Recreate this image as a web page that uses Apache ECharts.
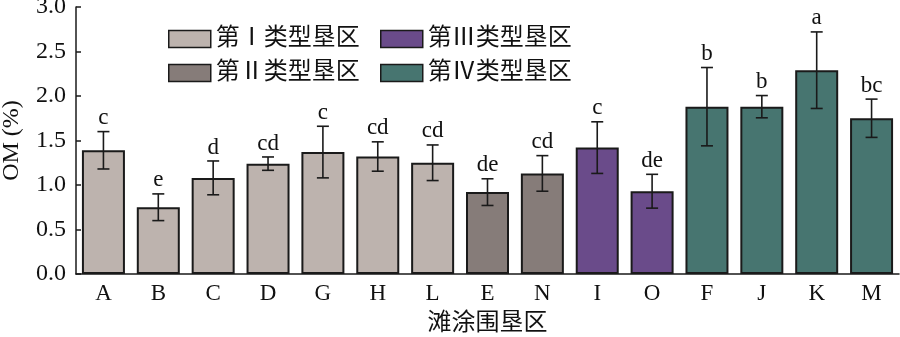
<!DOCTYPE html>
<html>
<head>
<meta charset="utf-8">
<script src="https://cdn.jsdelivr.net/npm/echarts@6/dist/echarts.min.js"></script>
<style>
  html, body { margin: 0; padding: 0; background: #fff; }
  #chart { width: 900px; height: 337px; }
</style>
</head>
<body>
<div id="chart"></div>
<script>
// Reclamation zones along the x axis
const categories = ['A', 'B', 'C', 'D', 'G', 'H', 'L', 'E', 'N', 'I', 'O', 'F', 'J', 'K', 'M'];
// Mean organic matter content (%)
const omMean = [1.39, 0.75, 1.08, 1.24, 1.37, 1.32, 1.25, 0.92, 1.13, 1.42, 0.93, 1.88, 1.88, 2.29, 1.75];
// Standard error for each zone
const omError = [0.21, 0.15, 0.19, 0.075, 0.29, 0.165, 0.2, 0.15, 0.2, 0.29, 0.19, 0.44, 0.125, 0.43, 0.215];
// Significance letters
const sigLetters = ['c', 'e', 'd', 'cd', 'c', 'cd', 'cd', 'de', 'cd', 'c', 'de', 'b', 'b', 'a', 'bc'];
// Zone type index for each category (0..3)
const zoneType = [0, 0, 0, 0, 0, 0, 0, 1, 1, 2, 2, 3, 3, 3, 3];
// Zone type names
const typeNames = ['第Ⅰ类型垦区', '第Ⅱ类型垦区', '第Ⅲ类型垦区', '第Ⅳ类型垦区'];
const typeColors = ['#bdb3ae', '#867c79', '#6a4b8a', '#477570'];

const serif = '"Liberation Serif", "Times New Roman", "Noto Sans CJK SC", serif';

const barSeries = typeNames.map((name, t) => ({
  name: name,
  type: 'bar',
  barWidth: 43,
  barGap: '-100%',
  itemStyle: { color: typeColors[t], borderColor: '#1a1a1a', borderWidth: 2 },
  data: omMean.map((v, i) => (zoneType[i] === t ? v : null)),
  z: 2
}));

// Error bars with significance letters above the upper cap
const errorSeries = {
  type: 'custom',
  name: 'err',
  z: 5,
  data: omMean.map((v, i) => [i, v, omError[i]]),
  renderItem: function (params, api) {
    const x = api.value(0);
    const v = api.value(1);
    const e = api.value(2);
    const letter = sigLetters[params.dataIndex];
    const top = api.coord([x, v + e]);
    const bot = api.coord([x, v - e]);
    const cap = 6;
    const style = { stroke: '#1a1a1a', lineWidth: 1.6 };
    return {
      type: 'group',
      children: [
        { type: 'line', shape: { x1: top[0], y1: top[1], x2: bot[0], y2: bot[1] }, style: style },
        { type: 'line', shape: { x1: top[0] - cap, y1: top[1], x2: top[0] + cap, y2: top[1] }, style: style },
        { type: 'line', shape: { x1: bot[0] - cap, y1: bot[1], x2: bot[0] + cap, y2: bot[1] }, style: style },
        {
          type: 'text',
          style: {
            x: top[0], y: top[1] - 2,
            text: letter,
            align: 'center', verticalAlign: 'bottom',
            font: '23px ' + serif,
            fill: '#111'
          }
        }
      ]
    };
  }
};

const legendBase = {
  orient: 'vertical',
  itemWidth: 42,
  itemHeight: 17,
  itemGap: 10,
  icon: 'rect',
  textStyle: { fontFamily: serif, fontSize: 24, color: '#111' },
  itemStyle: { borderColor: '#1a1a1a', borderWidth: 1.5 },
  selectedMode: false
};

const chart = echarts.init(document.getElementById('chart'));
chart.setOption({
  animation: false,
  backgroundColor: '#fff',
  grid: { left: 76, right: 1, top: 7, bottom: 63, containLabel: false, outerBoundsMode: 'none' },
  legend: [
    Object.assign({}, legendBase, { left: 163, top: 22, data: [typeNames[0], typeNames[1]] }),
    Object.assign({}, legendBase, { left: 375, top: 22, data: [typeNames[2], typeNames[3]] })
  ],
  xAxis: {
    type: 'category',
    data: categories,
    name: '滩涂围垦区',
    nameLocation: 'middle',
    nameGap: 38,
    nameTextStyle: { fontFamily: serif, fontSize: 24, color: '#111' },
    axisLine: { lineStyle: { color: '#1a1a1a', width: 1.5 } },
    axisTick: { show: false },
    axisLabel: { fontFamily: serif, fontSize: 23, color: '#111', margin: 8 }
  },
  yAxis: {
    type: 'value',
    min: 0, max: 3, interval: 0.5,
    name: 'OM (%)',
    nameLocation: 'middle',
    nameGap: 52,
    nameTextStyle: { fontFamily: serif, fontSize: 24, color: '#111' },
    axisLine: { show: true, lineStyle: { color: '#1a1a1a', width: 1.5 } },
    axisTick: { show: true, inside: true, length: 5, lineStyle: { color: '#1a1a1a', width: 1.5 } },
    splitLine: { show: false },
    axisLabel: { fontFamily: serif, fontSize: 24, color: '#111', margin: 10, formatter: v => v.toFixed(1) }
  },
  series: barSeries.concat([errorSeries])
});
</script>
</body>
</html>
